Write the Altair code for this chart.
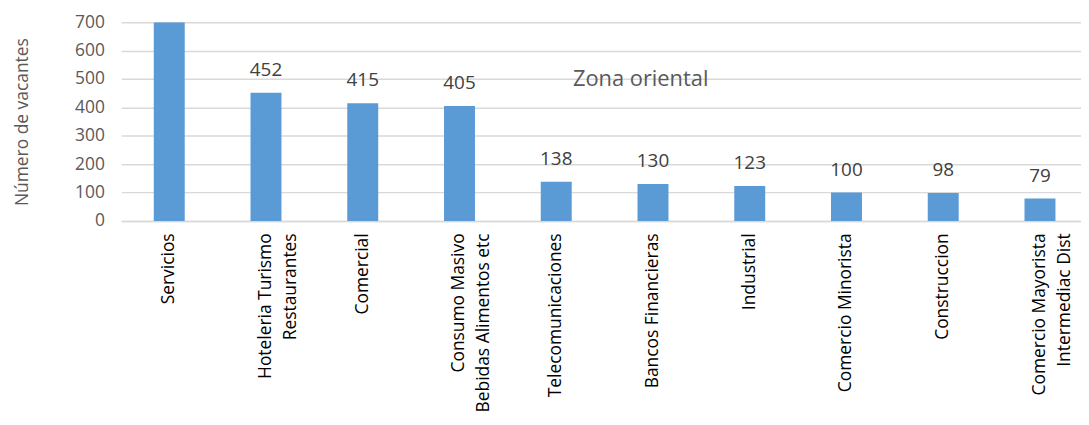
import altair as alt
import pandas as pd

categories = [
    "Servicios",
    "Hoteleria Turismo|Restaurantes",
    "Comercial",
    "Consumo Masivo|Bebidas Alimentos etc",
    "Telecomunicaciones",
    "Bancos Financieras",
    "Industrial",
    "Comercio Minorista",
    "Construccion",
    "Comercio Mayorista|Intermediac Dist",
]
values = [700, 452, 415, 405, 138, 130, 123, 100, 98, 79]
y_ticks = [0, 100, 200, 300, 400, 500, 600, 700]
annotation_text = "Zona oriental"
annotation_category = "Telecomunicaciones"
annotation_value = 500

df = pd.DataFrame({"cat": categories, "val": values})
ann = pd.DataFrame({"cat": [annotation_category], "val": [annotation_value], "t": [annotation_text]})

FONT = "Open Sans"

x_enc = alt.X(
    "cat:N",
    sort=categories,
    scale=alt.Scale(paddingInner=0.68, paddingOuter=0.3, align=0.56),
    axis=alt.Axis(
        title=None,
        labelAngle=-90,
        labelAlign="right",
        labelBaseline="middle",
        labelExpr="split(datum.label, '|')",
        labelFont=FONT,
        labelFontSize=17.5,
        labelColor="#000000",
        labelLineHeight=25,
        labelPadding=12,
        labelLimit=400,
        labelOverlap=False,
        ticks=False,
        domain=True,
        domainColor="#d9d9d9",
        domainWidth=1.5,
        grid=False,
    ),
)
y_enc = alt.Y(
    "val:Q",
    scale=alt.Scale(domain=[0, 700], nice=False),
    axis=alt.Axis(
        values=y_ticks,
        tickCount=8,
        title="Número de vacantes",
        titleFont=FONT,
        titleFontSize=17.5,
        titleFontWeight="normal",
        titleColor="#595959",
        titleAngle=-90,
        titleX=-99,
        titleY=100,
        titleAlign="center",
        titleBaseline="middle",
        labelFont=FONT,
        labelFontSize=17.5,
        labelColor="#595959",
        labelPadding=17,
        labelOverlap=False,
        labelFlush=False,
        ticks=False,
        domain=False,
        grid=True,
        gridColor="#d9d9d9",
        gridWidth=1.5,
    ),
)

bars = alt.Chart(df).mark_bar(color="#5b9bd5", clip=True).encode(x=x_enc, y=y_enc)

labels = (
    alt.Chart(df)
    .transform_filter("datum.val < 700")
    .mark_text(font=FONT, fontSize=19, color="#404040", baseline="bottom", dy=-13)
    .encode(x=x_enc, y=y_enc, text="val:Q")
)

note = alt.Chart(ann).mark_text(
    font=FONT, fontSize=22, color="#595959", baseline="middle", align="center", dx=85
).encode(x=x_enc, y=y_enc, text="t:N")

chart = (
    alt.layer(bars, labels, note)
    .properties(
        width=966,
        height=200,
        autosize=alt.AutoSizeParams(type="none"),
        padding={"left": 114, "top": 13, "right": 0, "bottom": 195},
    )
    .configure_view(stroke=None)
)

chart.save("out.html", embed_options={"renderer": "svg", "actions": False})
